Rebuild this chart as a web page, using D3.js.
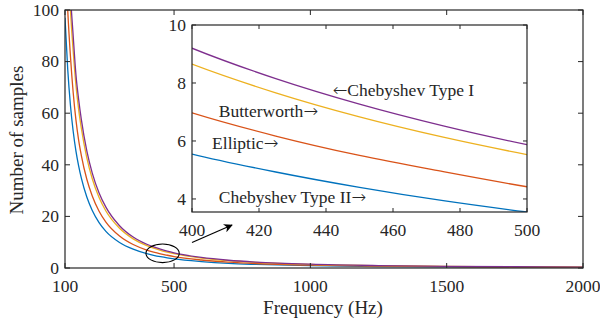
<!DOCTYPE html>
<html>
<head>
<meta charset="utf-8">
<script src="https://cdn.jsdelivr.net/npm/d3@7"></script>
<style>
    body { margin: 0; background: #fff; }
    text { font-family: "Liberation Serif", "Times New Roman", serif; fill: #262626; }
    .arr { font-family: "DejaVu Sans", sans-serif; font-weight: 200; }
</style>
</head>
<body>
<div id="chart"></div>
<script>
const freqs = [100, 110, 120, 130, 140, 150, 160, 180, 200, 225, 250, 300, 350, 400, 425, 450, 475, 500, 600, 700, 800, 1000, 1250, 1500, 1750, 2000];

// number of samples for each filter
const cheby2 = [97, 77, 63, 53, 45.4, 39.6, 34.8, 27.5, 22.3, 17.6, 14.2, 9.9, 7.3, 5.55, 4.93, 4.4, 3.94, 3.55, 2.5, 1.8, 1.4, 0.9, 0.57, 0.4, 0.29, 0.22];
const elliptic = [125, 100, 82, 68, 57.5, 49.6, 43.6, 34.4, 27.9, 22, 17.8, 12.4, 9.1, 6.97, 6.17, 5.5, 4.94, 4.42, 3.1, 2.3, 1.75, 1.1, 0.71, 0.5, 0.36, 0.28];
const butter = [155, 125, 100, 84, 71, 61.5, 54.1, 42.7, 34.6, 27.3, 22.1, 15.4, 11.3, 8.65, 7.66, 6.83, 6.13, 5.53, 3.84, 2.82, 2.16, 1.38, 0.89, 0.62, 0.45, 0.35];
const cheby1 = [160, 130, 106, 90, 75.1, 65.4, 57.5, 45.4, 36.8, 29.1, 23.6, 16.4, 12.0, 9.2, 8.15, 7.27, 6.52, 5.87, 4.09, 3.0, 2.3, 1.47, 0.94, 0.65, 0.48, 0.37];

const seriesNames = ['Chebyshev Type II', 'Elliptic', 'Butterworth', 'Chebyshev Type I'];
const seriesValues = [cheby2, elliptic, butter, cheby1];
const seriesColors = ['#0072BD', '#D95319', '#EDB120', '#7E2F8E'];

const mainXTicks = [100, 500, 1000, 1500, 2000];
const mainYTicks = [0, 20, 40, 60, 80, 100];
const insetXTicks = [400, 420, 440, 460, 480, 500];
const insetYTicks = [4, 6, 8, 10];

// inset annotations (data coordinates of the inset), arrow before or after the name
const noteTexts = ['Chebyshev Type I', 'Butterworth', 'Elliptic', 'Chebyshev Type II'];
const noteArrowLeft = [true, false, false, false];
const noteFreqs = [442, 408, 406, 408];
const noteVals = [7.54, 6.84, 5.73, 3.86];

const width = 600, height = 326;
const axisColor = '#262626';
const tickFont = 17.5;

const svg = d3.select('#chart')
    .append('svg')
    .attr('width', width)
    .attr('height', height);

const defs = svg.append('defs');
defs.append('marker')
    .attr('id', 'arrowhead')
    .attr('viewBox', '0 0 10 10')
    .attr('refX', 9)
    .attr('refY', 5)
    .attr('markerWidth', 9)
    .attr('markerHeight', 9)
    .attr('markerUnits', 'userSpaceOnUse')
    .attr('orient', 'auto')
    .append('path')
    .attr('d', 'M0,0 L10,5 L0,10 L3,5 Z')
    .attr('fill', '#000');

function drawAxes(g, x, y, xTicks, yTicks, tickLen, fontSize) {
    const [x0, x1] = x.range();
    const [y0, y1] = y.range();

    const ticks = g.append('g').attr('stroke', axisColor).attr('stroke-width', 1);
    xTicks.forEach(t => {
        ticks.append('line').attr('x1', x(t)).attr('x2', x(t)).attr('y1', y0).attr('y2', y0 - tickLen);
        ticks.append('line').attr('x1', x(t)).attr('x2', x(t)).attr('y1', y1).attr('y2', y1 + tickLen);
    });
    yTicks.forEach(t => {
        ticks.append('line').attr('x1', x0).attr('x2', x0 + tickLen).attr('y1', y(t)).attr('y2', y(t));
        ticks.append('line').attr('x1', x1).attr('x2', x1 - tickLen).attr('y1', y(t)).attr('y2', y(t));
    });

    g.append('rect')
        .attr('x', x0).attr('y', y1)
        .attr('width', x1 - x0).attr('height', y0 - y1)
        .attr('fill', 'none')
        .attr('stroke', axisColor)
        .attr('stroke-width', 1.2);

    g.selectAll('.xlab')
        .data(xTicks)
        .enter()
        .append('text')
        .attr('x', d => x(d))
        .attr('y', y0 + 24)
        .attr('text-anchor', 'middle')
        .style('font-size', fontSize + 'px')
        .text(d => d);

    g.selectAll('.ylab')
        .data(yTicks)
        .enter()
        .append('text')
        .attr('x', x0 - 6)
        .attr('y', d => y(d) + fontSize * 0.33)
        .attr('text-anchor', 'end')
        .style('font-size', fontSize + 'px')
        .text(d => d);
}

// ---- main axes ----
const x = d3.scaleLinear().domain([100, 2000]).range([65, 583]);
const y = d3.scaleLinear().domain([0, 100]).range([268, 10]);

svg.append('clipPath').attr('id', 'clipMain')
    .append('rect').attr('x', 65).attr('y', 10).attr('width', 518).attr('height', 258);

const line = d3.line()
    .x((d, i) => x(freqs[i]))
    .y(d => y(d))
    .curve(d3.curveMonotoneX);

svg.append('g')
    .attr('clip-path', 'url(#clipMain)')
    .selectAll('path')
    .data(seriesValues)
    .enter()
    .append('path')
    .attr('d', d => line(d))
    .attr('fill', 'none')
    .attr('stroke', (d, i) => seriesColors[i])
    .attr('stroke-width', 1.3);

drawAxes(svg.append('g'), x, y, mainXTicks, mainYTicks, 5, tickFont);

svg.append('text')
    .attr('x', 323)
    .attr('y', 314)
    .attr('text-anchor', 'middle')
    .style('font-size', '19px')
    .text('Frequency (Hz)');

svg.append('text')
    .attr('transform', 'translate(23,140) rotate(-90)')
    .attr('text-anchor', 'middle')
    .style('font-size', '19px')
    .text('Number of samples');

// zoom ellipse and arrow
svg.append('ellipse')
    .attr('cx', x(458))
    .attr('cy', y(5.7))
    .attr('rx', x(458) - x(458 - 61))
    .attr('ry', y(0) - y(3.6))
    .attr('fill', 'none')
    .attr('stroke', '#000')
    .attr('stroke-width', 1.1);

// ---- inset ----
const xi = d3.scaleLinear().domain([400, 500]).range([192, 527]);
const yi = d3.scaleLinear().domain([3.55, 10]).range([212, 25]);

svg.append('rect')
    .attr('x', 192).attr('y', 25)
    .attr('width', 335).attr('height', 187)
    .attr('fill', '#fff');

svg.append('clipPath').attr('id', 'clipInset')
    .append('rect').attr('x', 192).attr('y', 25).attr('width', 335).attr('height', 187);

const insetIdx = freqs.map((f, i) => i).filter(i => freqs[i] >= 350 && freqs[i] <= 600);

svg.append('g')
    .attr('clip-path', 'url(#clipInset)')
    .selectAll('path')
    .data(seriesValues)
    .enter()
    .append('path')
    .attr('d', vals => d3.line()
        .x(i => xi(freqs[i]))
        .y(i => yi(vals[i]))
        .curve(d3.curveMonotoneX)(insetIdx))
    .attr('fill', 'none')
    .attr('stroke', (d, i) => seriesColors[i])
    .attr('stroke-width', 1.3);

drawAxes(svg.append('g'), xi, yi, insetXTicks, insetYTicks, 4, tickFont);

const notes = svg.selectAll('.note')
    .data(noteTexts)
    .enter()
    .append('text')
    .attr('x', (d, i) => xi(noteFreqs[i]))
    .attr('y', (d, i) => yi(noteVals[i]))
    .style('font-size', '17.5px');

notes.each(function (d, i) {
    const t = d3.select(this);
    if (noteArrowLeft[i]) {
        t.append('tspan').attr('class', 'arr').text('\u2192'.replace('\u2192', '\u2190'));
        t.append('tspan').text(d);
    } else {
        t.append('tspan').text(d);
        t.append('tspan').attr('class', 'arr').text('\u2192');
    }
});

svg.append('line')
    .attr('x1', 192)
    .attr('y1', 242.5)
    .attr('x2', 232)
    .attr('y2', 225)
    .attr('stroke', '#000')
    .attr('stroke-width', 1.2)
    .attr('marker-end', 'url(#arrowhead)');
</script>
</body>
</html>
